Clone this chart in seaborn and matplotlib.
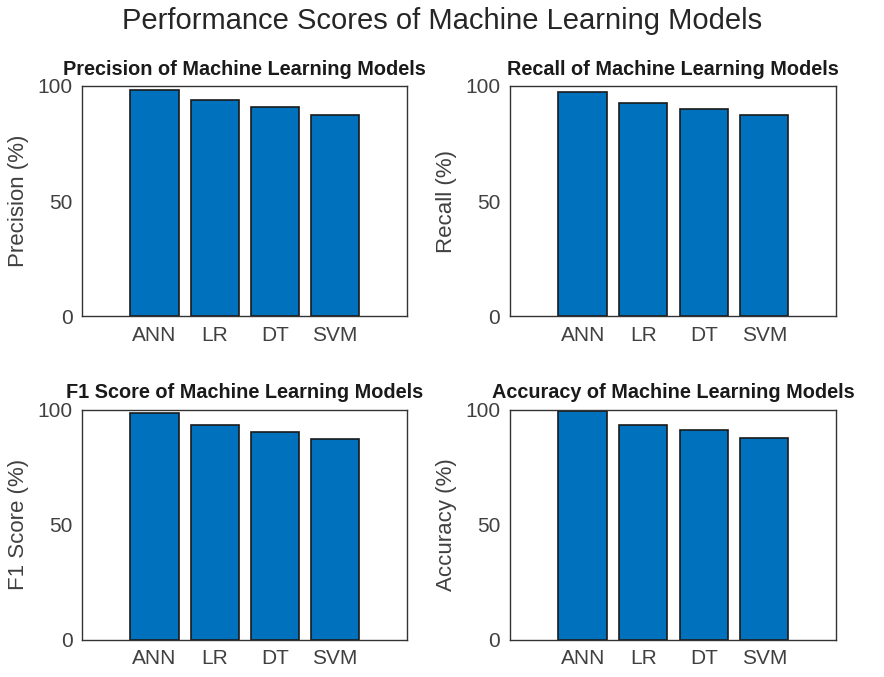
import matplotlib
matplotlib.use("Agg")
import matplotlib.pyplot as plt
import seaborn as sns

models = ["ANN", "LR", "DT", "SVM"]
precision = [98.3, 93.9, 91.0, 87.3]
recall = [97.5, 92.4, 90.0, 87.3]
f1_score = [98.3, 93.5, 90.3, 87.4]
accuracy = [99.5, 93.5, 91.3, 87.7]

titles = ["Precision of Machine Learning Models", "Recall of Machine Learning Models",
          "F1 Score of Machine Learning Models", "Accuracy of Machine Learning Models"]
ylabels = ["Precision (%)", "Recall (%)", "F1 Score (%)", "Accuracy (%)"]
scores = [precision, recall, f1_score, accuracy]

sns.set_style("white")
plt.rcParams["font.family"] = ["Liberation Sans", "DejaVu Sans"]

fig = plt.figure(figsize=(8.84, 6.77), dpi=100)

# axes boxes in figure fractions (left, bottom, width, height)
boxes = [
    [0.093, 0.533, 0.367, 0.340],
    [0.577, 0.533, 0.369, 0.340],
    [0.093, 0.055, 0.367, 0.340],
    [0.577, 0.055, 0.369, 0.340],
]

for box, vals, title, ylab in zip(boxes, scores, titles, ylabels):
    ax = fig.add_axes(box)
    sns.barplot(x=models, y=vals, ax=ax, color="#0072BD", saturation=1,
                edgecolor="#1a1a1a", linewidth=1.2, width=0.8)
    ax.set_xlim(-1.2, 4.19)
    ax.set_ylim(0, 100)
    ax.set_yticks([0, 50, 100])
    ax.tick_params(direction="in", length=3, labelsize=15, labelcolor="#404040",
                   color="#404040", pad=7)
    ax.set_ylabel(ylab, fontsize=16, color="#404040", labelpad=6)
    ax.set_xlabel("")
    ax.set_title(title, fontsize=14.3, fontweight="bold", color="#1a1a1a", pad=8)
    for s in ax.spines.values():
        s.set_visible(True)
        s.set_color("#333333")
        s.set_linewidth(1.0)

fig.suptitle("Performance Scores of Machine Learning Models", fontsize=21,
             color="#262626", y=0.99)

fig.savefig("out.png", dpi=100)
